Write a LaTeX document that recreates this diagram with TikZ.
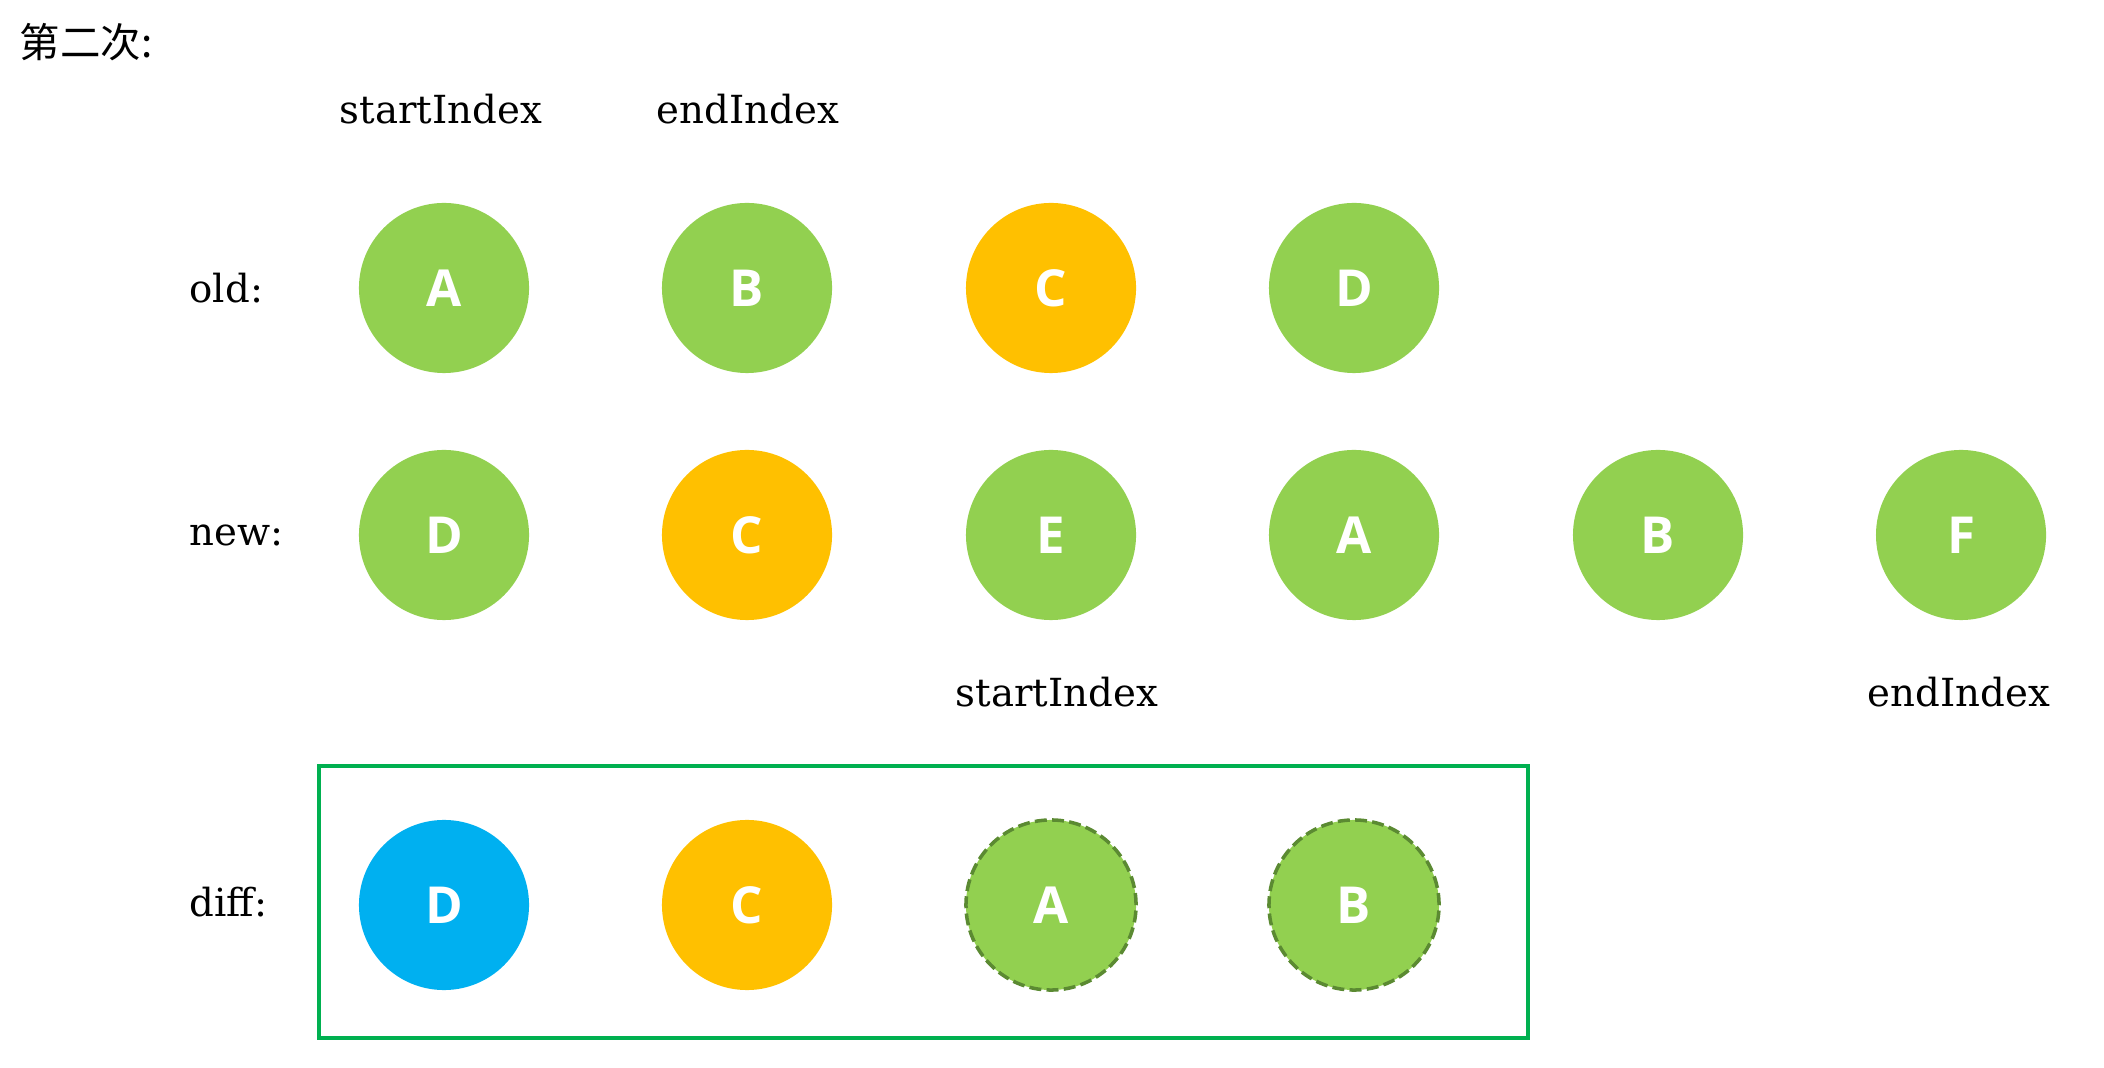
\documentclass[tikz,border=0pt]{standalone}
\usepackage{fontspec}
\setmainfont{DejaVu Serif}
\newfontfamily\ballfont{Open Sans}
\newfontfamily\cjkfont{Noto Sans CJK SC}
\definecolor{leaf}{HTML}{92D050}
\definecolor{amber}{HTML}{FFC000}
\definecolor{sky}{HTML}{00B0F0}
\definecolor{moss}{HTML}{5B8A32}
\definecolor{frame}{HTML}{00B050}

\begin{document}
\begin{tikzpicture}[x = 0.01cm, y = -0.01cm,
                        ball/.style = {circle, inner sep = 0pt, minimum size = 1.7cm, text = white,
                                       font = \ballfont\bfseries\fontsize{14.5}{16}\selectfont},
                        same/.style = {ball, fill = leaf},
                        moved/.style = {ball, fill = amber},
                        added/.style = {ball, fill = sky},
                        gone/.style = {ball, fill = leaf, draw = moss, line width = 1pt,
                                       dash pattern = on 3.4pt off 1.5pt},
                        tag/.style = {inner sep = 0pt, font = \fontsize{11}{13}\selectfont}]
    \useasboundingbox (0, 0) rectangle (2104, 1068);
    \node [inner sep = 0pt, anchor = west, font = \cjkfont\fontsize{11.5}{13}\selectfont] (title) at (19, 42){第二次:};

    \node [tag, anchor = base] (os) at (441, 124){startIndex};
    \node [tag, anchor = base] (oe) at (748, 124){endIndex};

    \node [tag, anchor = base west] (old) at (189, 303){old:};
    \node [same] (oA) at (444, 288){A};
    \node [same] (oB) at (747, 288){B};
    \node [moved] (oC) at (1051, 288){C};
    \node [same] (oD) at (1354, 288){D};

    \node [tag, anchor = base west] (new) at (189, 546){new:};
    \node [same] (nD) at (444, 535){D};
    \node [moved] (nC) at (747, 535){C};
    \node [same] (nE) at (1051, 535){E};
    \node [same] (nA) at (1354, 535){A};
    \node [same] (nB) at (1658, 535){B};
    \node [same] (nF) at (1961, 535){F};

    \node [tag, anchor = base] (ns) at (1057, 707){startIndex};
    \node [tag, anchor = base] (ne) at (1959, 707){endIndex};

    \node [tag, anchor = base west] (diff) at (189, 916){diff:};
    \node [added] (dD) at (444, 905){D};
    \node [moved] (dC) at (747, 905){C};
    \node [gone] (dA) at (1051, 905){A};
    \node [gone] (dB) at (1354, 905){B};
    \draw [frame, line width = 1pt] (319, 766) rectangle (1528, 1038);
  \end{tikzpicture}
\end{document}
